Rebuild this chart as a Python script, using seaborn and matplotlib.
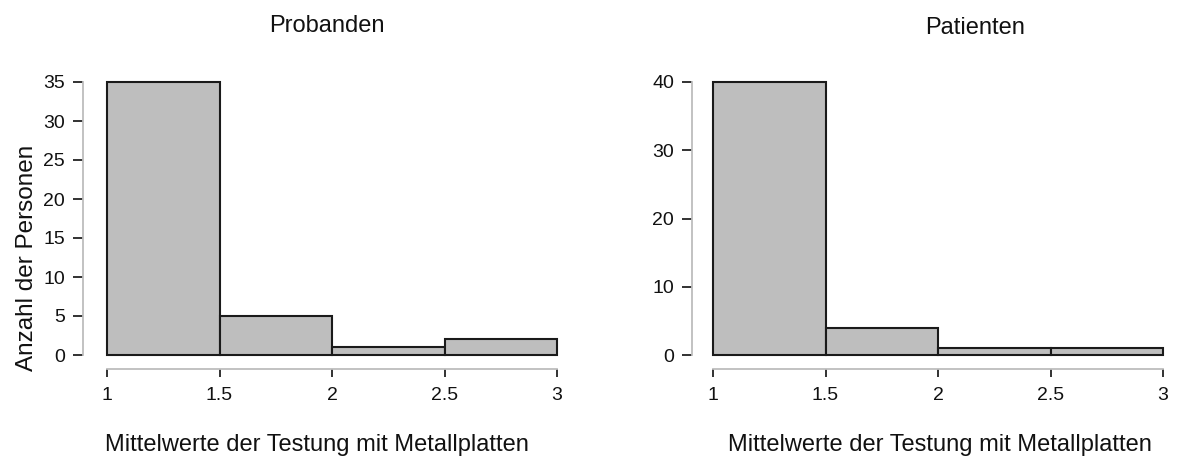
import matplotlib
matplotlib.use("Agg")
import matplotlib.pyplot as plt
import seaborn as sns

# Histogram bins and counts
bin_edges = [1.0, 1.5, 2.0, 2.5, 3.0]
probanden_counts = [35, 5, 1, 2]
patienten_counts = [40, 4, 1, 1]

x_ticks = [1, 1.5, 2, 2.5, 3]
x_tick_labels = ["1", "1.5", "2", "2.5", "3"]
probanden_yticks = [0, 5, 10, 15, 20, 25, 30, 35]
patienten_yticks = [0, 10, 20, 30, 40]

sns.set_style("white")
plt.rcParams["font.family"] = ["Liberation Sans", "DejaVu Sans"]

W, H = 1178, 457
fig = plt.figure(figsize=(W / 100, H / 100), dpi=100)
TXT = "#111111"


def px_axes(left, top, right, bottom):
    return fig.add_axes([left / W, 1 - bottom / H, (right - left) / W, (bottom - top) / H])


def draw_panel(ax, counts, yticks, xlim, ylim):
    centers = [(a + b) / 2 for a, b in zip(bin_edges[:-1], bin_edges[1:])]
    sns.histplot(x=centers, weights=counts, bins=bin_edges, ax=ax,
                 color="#bebebe", edgecolor="#1a1a1a", linewidth=1.5,
                 alpha=1.0, legend=False)
    ax.set_xlim(*xlim)
    ax.set_ylim(*ylim)
    ax.set_xticks(x_ticks)
    ax.set_xticklabels(x_tick_labels, fontsize=14)
    ax.set_yticks(yticks)
    ax.set_yticklabels([str(v) for v in yticks], fontsize=14)
    ax.set_xlabel("")
    ax.set_ylabel("")
    for side in ("top", "right"):
        ax.spines[side].set_visible(False)
    for side in ("left", "bottom"):
        ax.spines[side].set_color("#bdbdbd")
        ax.spines[side].set_linewidth(1.3)
    ax.spines["left"].set_bounds(yticks[0], yticks[-1])
    ax.spines["bottom"].set_bounds(x_ticks[0], x_ticks[-1])
    ax.tick_params(axis="both", which="major", width=1.3,
                   color="#222222", labelcolor=TXT,
                   direction="out", left=True, bottom=True)
    ax.tick_params(axis="x", length=6, pad=7)
    ax.tick_params(axis="y", length=7, pad=6)
    ax.patch.set_visible(False)


ax1 = px_axes(83, 71, 580, 369)
draw_panel(ax1, probanden_counts, probanden_yticks,
           (1 - 24 / 225, 3 + 23 / 225), (-14 / 7.8, 35 + 11 / 7.8))

ax2 = px_axes(692, 71, 1186, 369)
draw_panel(ax2, patienten_counts, patienten_yticks,
           (1 - 21 / 225, 3 + 23 / 225), (-14 / 6.825, 40 + 11 / 6.825))

# Panel titles and axis labels
fig.text(327 / W, 1 - 32 / H, "Probanden", ha="center", va="baseline",
         fontsize=17, color=TXT)
fig.text(975 / W, 1 - 34 / H, "Patienten", ha="center", va="baseline",
         fontsize=17, color=TXT)
fig.text(317 / W, 1 - 451 / H, "Mittelwerte der Testung mit Metallplatten",
         ha="center", va="baseline", fontsize=17, color=TXT)
fig.text(940 / W, 1 - 451 / H, "Mittelwerte der Testung mit Metallplatten",
         ha="center", va="baseline", fontsize=17, color=TXT)
fig.text(33 / W, 1 - 258 / H, "Anzahl der Personen", ha="center", va="baseline",
         rotation=90, rotation_mode="anchor", fontsize=17.5, color=TXT)

fig.savefig("out.png", dpi=100, facecolor="white")
